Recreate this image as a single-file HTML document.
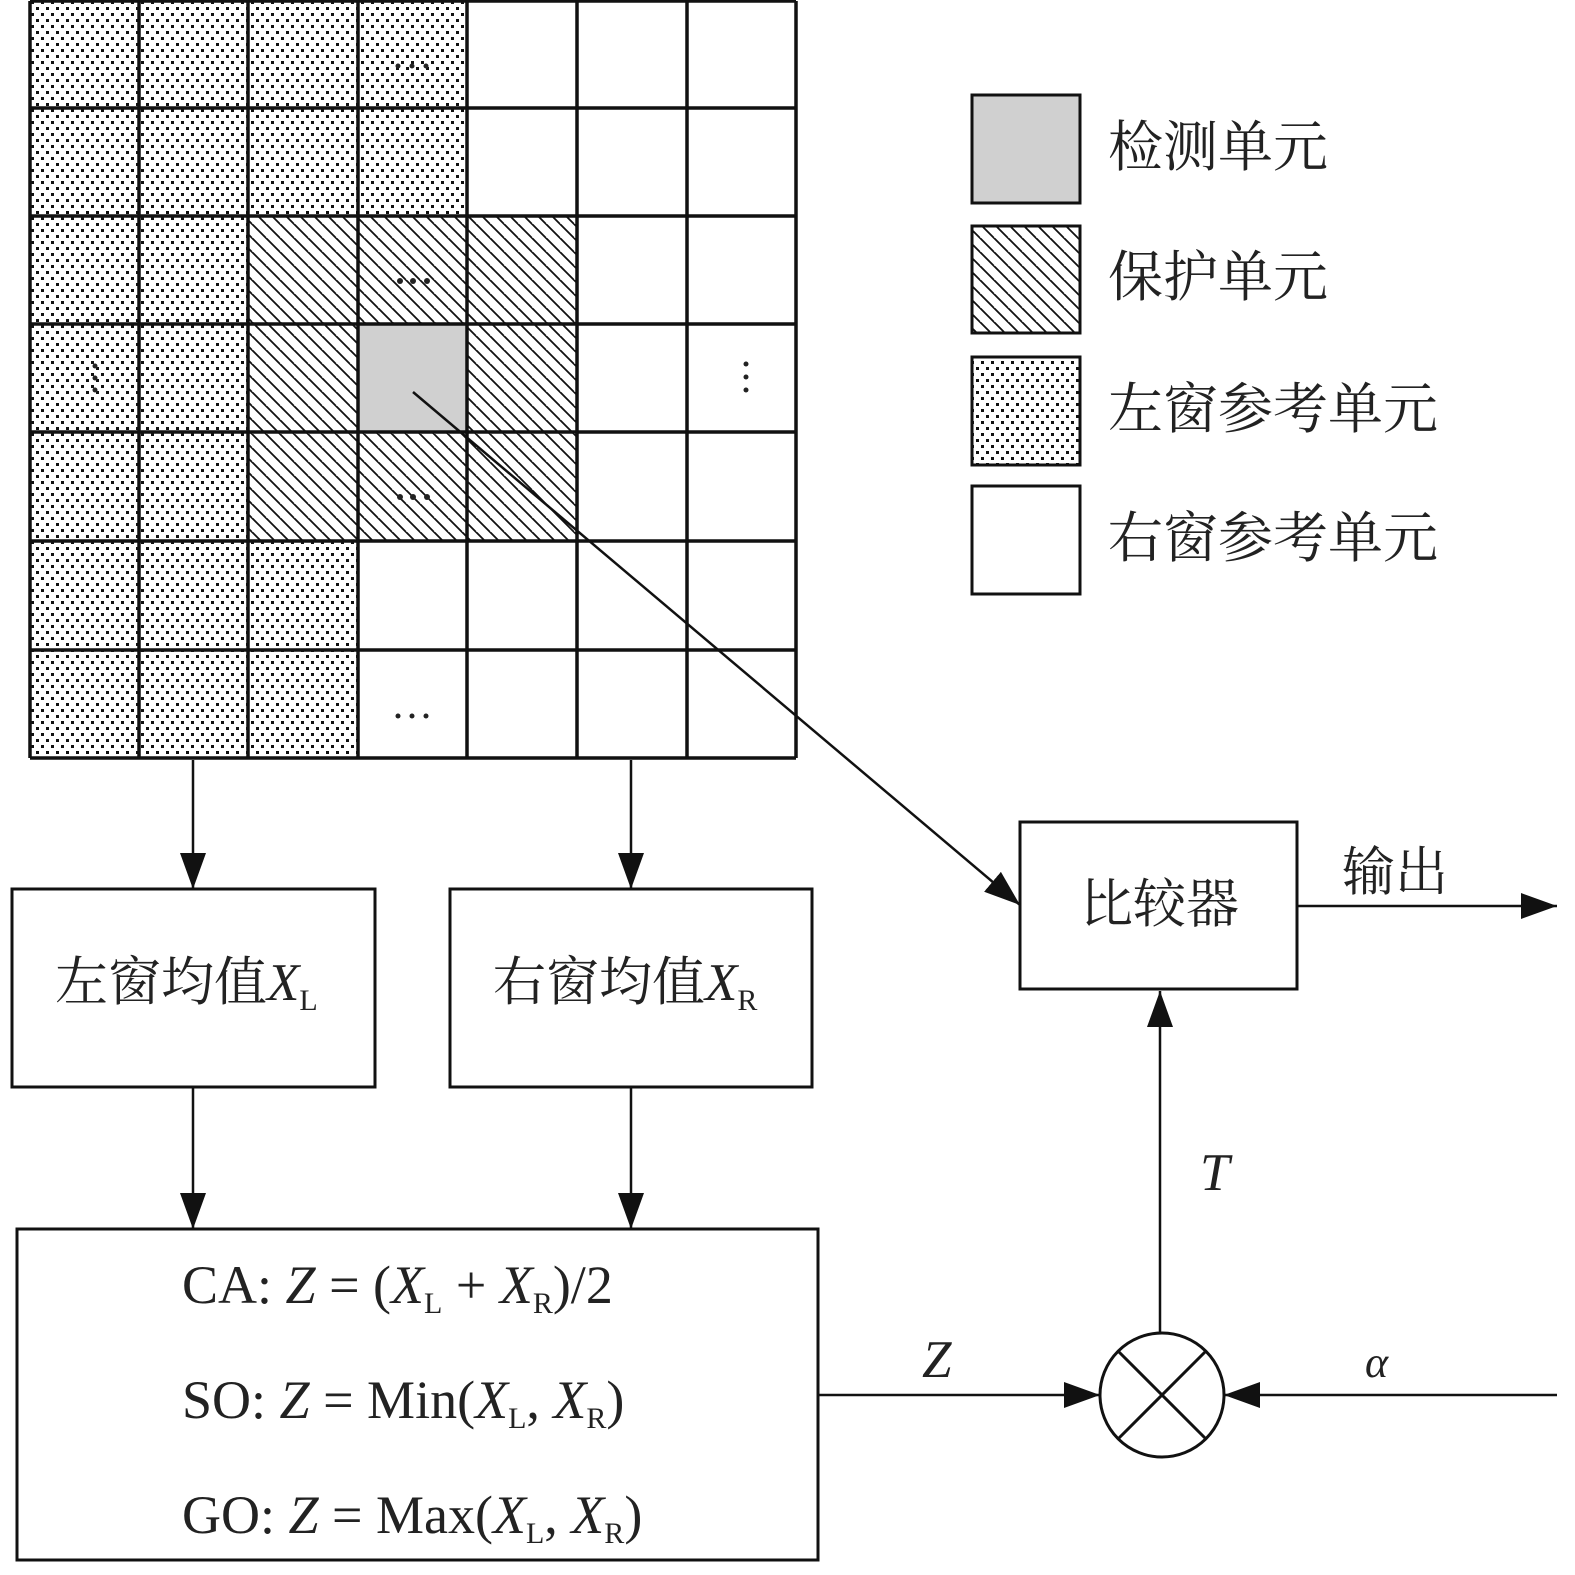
<!DOCTYPE html>
<html><head><meta charset="utf-8"><style>
body{margin:0;background:#fff}
text{font-family:"Liberation Serif","Noto Serif CJK SC",serif;fill:#222}
</style></head><body>
<svg width="1575" height="1570" viewBox="0 0 1575 1570" xmlns="http://www.w3.org/2000/svg">
<defs>
<pattern id="dot" width="10" height="12" patternUnits="userSpaceOnUse">
<rect width="10" height="12" fill="#fff"/><rect x="1" y="1" width="3" height="3" fill="#111"/><rect x="6" y="7" width="3" height="3" fill="#111"/></pattern>
<pattern id="hat" width="14" height="14" patternUnits="userSpaceOnUse">
<rect width="14" height="14" fill="#fff"/>
<path d="M0,0 L14,14 M-7,7 L0,14 M7,-7 L21,7" stroke="#111" stroke-width="1.8"/></pattern>
<marker id="ar" markerWidth="36" markerHeight="26" refX="36" refY="13" orient="auto" markerUnits="userSpaceOnUse"><path d="M0,0 L36,13 L0,26 Z" fill="#111"/></marker>
</defs>
<rect x="30" y="1" width="437" height="216" fill="url(#dot)"/>
<rect x="30" y="216" width="218" height="326" fill="url(#dot)"/>
<rect x="30" y="541" width="328" height="218" fill="url(#dot)"/>
<rect x="248" y="216" width="328" height="326" fill="url(#hat)"/>
<rect x="358" y="324" width="109" height="108" fill="#d0d0d0"/>
<g stroke="#111" stroke-width="3.5" fill="none">
<path d="M30,1 H796 M30,108 H796 M30,216 H796 M30,324 H796 M30,432 H796 M30,541 H796 M30,650 H796 M30,758 H796"/>
<path d="M30,1 V758 M139,1 V758 M248,1 V758 M358,1 V758 M467,1 V758 M577,1 V758 M687,1 V758 M796,1 V758"/>
</g>
<g fill="#222">
<circle cx="398" cy="66" r="2.5"/><circle cx="412" cy="66" r="2.5"/><circle cx="426" cy="66" r="2.5"/>
<circle cx="400" cy="281" r="3"/><circle cx="413" cy="281" r="3"/><circle cx="427" cy="281" r="3"/>
<circle cx="400" cy="497" r="3"/><circle cx="413" cy="497" r="3"/><circle cx="427" cy="497" r="3"/>
<circle cx="398" cy="716" r="2.5"/><circle cx="412" cy="716" r="2.5"/><circle cx="426" cy="716" r="2.5"/>
<circle cx="95" cy="366" r="2.5"/><circle cx="95" cy="378" r="2.5"/><circle cx="95" cy="390" r="2.5"/>
<circle cx="746" cy="364" r="2.5"/><circle cx="746" cy="377" r="2.5"/><circle cx="746" cy="390" r="2.5"/>
</g>
<g stroke="#111" stroke-width="3">
<rect x="972" y="95" width="108" height="108" fill="#d0d0d0"/>
<rect x="972" y="226" width="108" height="107" fill="url(#hat)"/>
<rect x="972" y="357" width="108" height="108" fill="url(#dot)"/>
<rect x="972" y="486" width="108" height="108" fill="#fff"/>
</g>
<g font-size="55">
<text x="1108" y="166">检测单元</text>
<text x="1108" y="296">保护单元</text>
<text x="1108" y="428">左窗参考单元</text>
<text x="1108" y="557">右窗参考单元</text>
</g>
<g stroke="#111" stroke-width="3" fill="#fff">
<rect x="12" y="889" width="363" height="198"/>
<rect x="450" y="889" width="362" height="198"/>
<rect x="17" y="1229" width="801" height="331"/>
<rect x="1020" y="822" width="277" height="167"/>
<circle cx="1162" cy="1395" r="62"/>
<path d="M1118,1351 L1206,1439 M1206,1351 L1118,1439" fill="none"/>
</g>
<g stroke="#111" stroke-width="2.5" fill="none" marker-end="url(#ar)">
<path d="M193,760 V889"/><path d="M631,760 V889"/>
<path d="M193,1087 V1229"/><path d="M631,1087 V1229"/>
<path d="M413,392 L1020,905"/>
<path d="M1297,906 H1557"/>
<path d="M1160,1333 V991"/>
<path d="M818,1395 H1100"/>
<path d="M1557,1395 H1224"/>
</g>
<g font-size="53">
<text x="55" y="1000">左窗均值<tspan font-style="italic">X</tspan><tspan font-size="30" dy="10">L</tspan></text>
<text x="493" y="1000">右窗均值<tspan font-style="italic">X</tspan><tspan font-size="30" dy="10">R</tspan></text>
<text x="1080" y="922">比较器</text>
<text x="1342" y="890">输出</text>
<text x="1200" y="1190" font-style="italic">T</text>
<text x="922" y="1377" font-style="italic">Z</text>
<text x="1365" y="1377" font-style="italic" font-size="44">α</text>
</g>
<g font-size="54">
<text x="182" y="1303">CA: <tspan font-style="italic">Z</tspan> = (<tspan font-style="italic">X</tspan><tspan font-size="30" dy="10">L</tspan><tspan dy="-10"> + </tspan><tspan font-style="italic">X</tspan><tspan font-size="30" dy="10">R</tspan><tspan dy="-10">)/2</tspan></text>
<text x="182" y="1418">SO: <tspan font-style="italic">Z</tspan> = Min(<tspan font-style="italic">X</tspan><tspan font-size="30" dy="10">L</tspan><tspan dy="-10">, </tspan><tspan font-style="italic">X</tspan><tspan font-size="30" dy="10">R</tspan><tspan dy="-10">)</tspan></text>
<text x="182" y="1533">GO: <tspan font-style="italic">Z</tspan> = Max(<tspan font-style="italic">X</tspan><tspan font-size="30" dy="10">L</tspan><tspan dy="-10">, </tspan><tspan font-style="italic">X</tspan><tspan font-size="30" dy="10">R</tspan><tspan dy="-10">)</tspan></text>
</g>
</svg>
</body></html>
